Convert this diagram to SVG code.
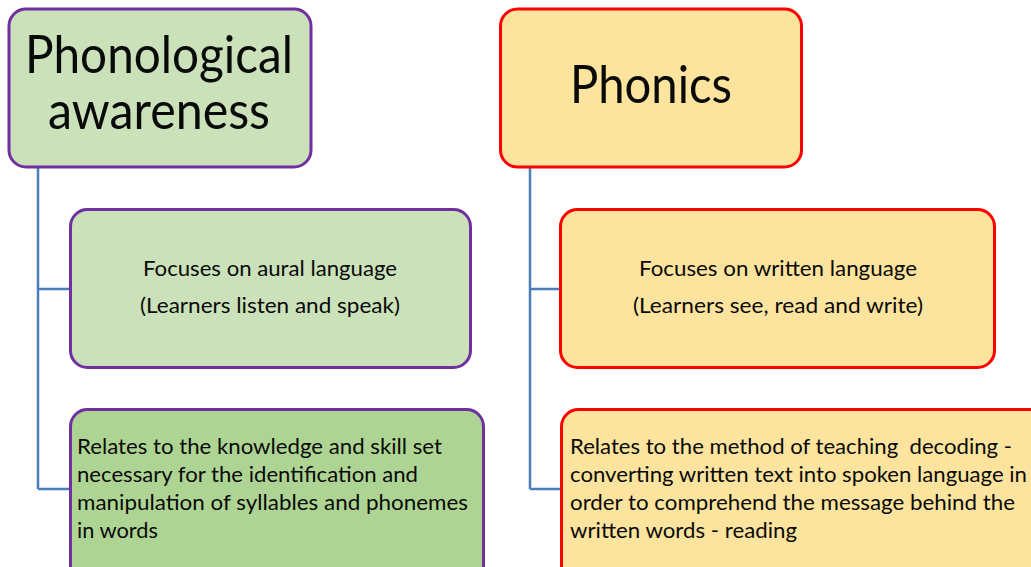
<svg xmlns="http://www.w3.org/2000/svg" width="1031" height="567" viewBox="0 0 1031 567">
  <style>
    .box { stroke-width: 3; }
    .pa { stroke: #7030A0; }
    .ph { stroke: #FF0000; }
    .g1 { fill: #CAE1BA; }
    .g2 { fill: #AED494; }
    .y1 { fill: #FDE49E; }
    .t { font-family: Lato, "Open Sans", "Liberation Sans", sans-serif; fill: #0A0A0A; }
    .title { font-size: 52px; }
    .body { font-size: 21.5px; }
    .conn { stroke: #4A7EBB; stroke-width: 2.5; fill: none; }
  </style>
  <rect width="1031" height="567" fill="#FFFFFF"/>

  <g id="connectors">
    <path class="conn" d="M38 168 V489 M38 289 H70 M38 489 H70"/>
    <path class="conn" d="M530 168 V489 M530 289 H561 M530 489 H561"/>
  </g>

  <g id="phonological-awareness">
    <rect class="box pa g1" x="9" y="9" width="302" height="158" rx="17"/>
    <text class="t title" x="25" y="73" textLength="268" lengthAdjust="spacingAndGlyphs">Phonological</text>
    <text class="t title" x="48" y="129" textLength="222" lengthAdjust="spacingAndGlyphs">awareness</text>
  </g>

  <g id="phonics">
    <rect class="box ph y1" x="500.5" y="9" width="301" height="158" rx="17"/>
    <text class="t title" x="570" y="103" textLength="162" lengthAdjust="spacingAndGlyphs">Phonics</text>
  </g>

  <g id="aural-language">
    <rect class="box pa g1" x="70.5" y="209.5" width="400" height="158" rx="17"/>
    <text class="t body" x="143" y="276" textLength="254" lengthAdjust="spacingAndGlyphs">Focuses on aural language</text>
    <text class="t body" x="140" y="313" textLength="260" lengthAdjust="spacingAndGlyphs">(Learners listen and speak)</text>
  </g>

  <g id="written-language">
    <rect class="box ph y1" x="560.5" y="209.5" width="434" height="158" rx="17"/>
    <text class="t body" x="639" y="276" textLength="278" lengthAdjust="spacingAndGlyphs">Focuses on written language</text>
    <text class="t body" x="633" y="313" textLength="290" lengthAdjust="spacingAndGlyphs">(Learners see, read and write)</text>
  </g>

  <g id="syllables-phonemes">
    <rect class="box pa g2" x="70.5" y="409.5" width="413" height="200" rx="17"/>
    <text class="t body" x="77" y="454" textLength="365" lengthAdjust="spacingAndGlyphs">Relates to the knowledge and skill set</text>
    <text class="t body" x="77" y="482" textLength="341" lengthAdjust="spacingAndGlyphs">necessary for the identification and</text>
    <text class="t body" x="77" y="510" textLength="391" lengthAdjust="spacingAndGlyphs">manipulation of syllables and phonemes</text>
    <text class="t body" x="77" y="538" textLength="81" lengthAdjust="spacingAndGlyphs">in words</text>
  </g>

  <g id="decoding">
    <rect class="box ph y1" x="561.5" y="409.5" width="520" height="200" rx="17"/>
    <text class="t body" x="570" y="454" textLength="442" lengthAdjust="spacingAndGlyphs" xml:space="preserve">Relates to the method of teaching  decoding -</text>
    <text class="t body" x="570" y="482" textLength="457" lengthAdjust="spacingAndGlyphs">converting written text into spoken language in</text>
    <text class="t body" x="570" y="510" textLength="445" lengthAdjust="spacingAndGlyphs">order to comprehend the message behind the</text>
    <text class="t body" x="570" y="538" textLength="227" lengthAdjust="spacingAndGlyphs">written words - reading</text>
  </g>
</svg>
